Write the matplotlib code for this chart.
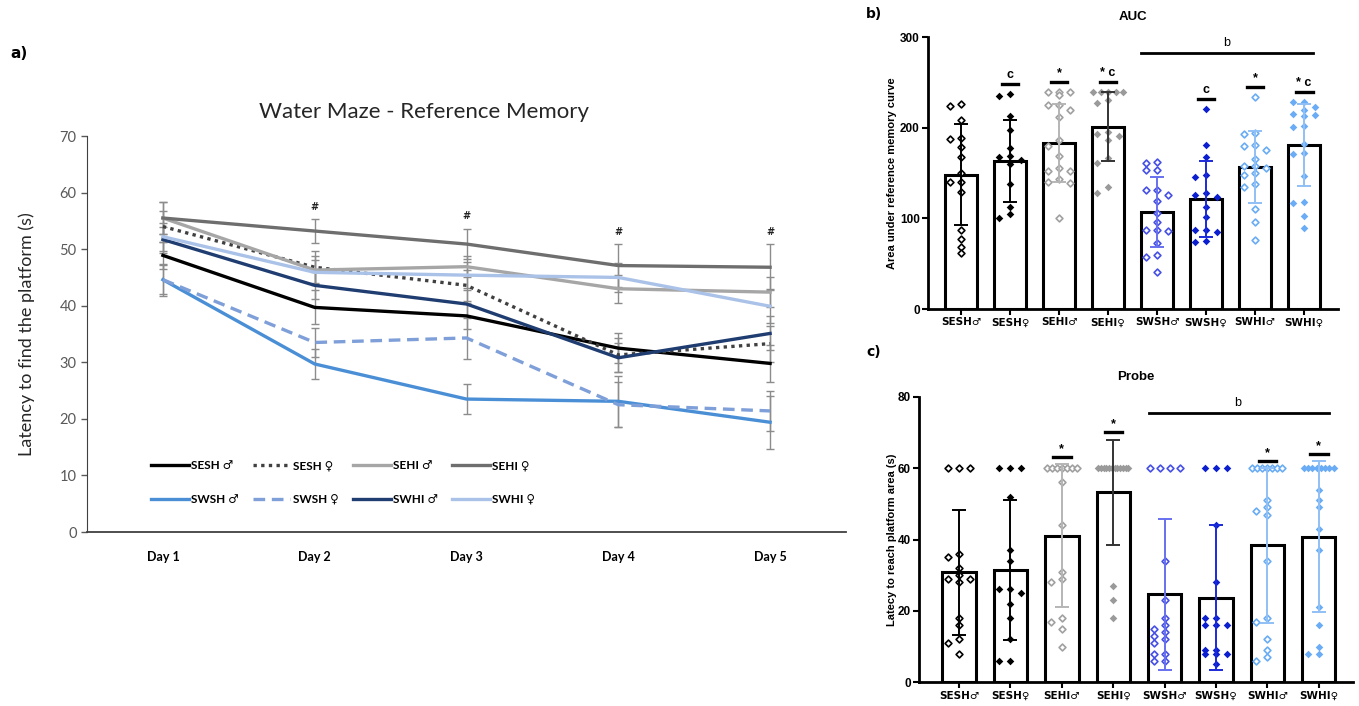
import matplotlib.pyplot as plt
import numpy as np

days = ['Day 1', 'Day 2', 'Day 3', 'Day 4', 'Day 5']
groups = ['SESH♂', 'SESH♀', 'SEHI♂', 'SEHI♀', 'SWSH♂', 'SWSH♀', 'SWHI♂', 'SWHI♀']
legend_labels = ['SESH ♂', 'SESH ♀', 'SEHI ♂', 'SEHI ♀', 'SWSH ♂', 'SWSH ♀', 'SWHI ♂', 'SWHI ♀']

# a) latency per day (mean, SEM)
sesh_m_lat = [48.9, 39.7, 38.2, 32.5, 29.8]
sesh_f_lat = [54.0, 46.8, 43.6, 31.3, 33.3]
sehi_m_lat = [55.5, 46.3, 46.9, 43.0, 42.4]
sehi_f_lat = [55.5, 53.2, 50.9, 47.1, 46.8]
swsh_m_lat = [44.6, 29.7, 23.5, 23.1, 19.4]
swsh_f_lat = [44.6, 33.5, 34.3, 22.5, 21.4]
swhi_m_lat = [51.7, 43.6, 40.3, 30.8, 35.1]
swhi_f_lat = [52.2, 45.9, 45.4, 45.0, 39.9]

sesh_m_sem = [2.4, 3.0, 2.3, 2.6, 3.3]
sesh_f_sem = [2.7, 2.8, 2.7, 3.0, 3.2]
sehi_m_sem = [2.8, 2.5, 1.8, 2.5, 2.6]
sehi_f_sem = [2.8, 2.1, 2.7, 3.8, 4.1]
swsh_m_sem = [2.8, 2.7, 2.6, 4.5, 4.7]
swsh_f_sem = [2.6, 2.6, 3.8, 4.0, 3.6]
swhi_m_sem = [2.3, 2.4, 2.5, 2.6, 3.0]
swhi_f_sem = [2.5, 2.2, 2.3, 2.5, 3.0]
hash_days = [1, 2, 3, 4]

# b) AUC
auc_mean = [148.3, 163.0, 183.6, 200.9, 107.2, 121.2, 156.8, 180.6]
auc_sd = [55.5, 45.5, 43.0, 38.0, 38.5, 42.0, 39.5, 45.0]
auc_sesh_m = [226.6, 223.6, 208.2, 189.1, 188, 178.8, 167.8, 150.2, 140.3, 140.3, 129.3, 87, 76.7, 68.7, 61.3]
auc_sesh_f = [237.6, 234.6, 212.6, 197.9, 177.7, 168.5, 167.8, 164.1, 159.4, 138.4, 112.7, 104.3, 99.9]
auc_sehi_m = [239.4, 239.4, 239.4, 235.7, 224.7, 224.7, 220, 211.9, 186.2, 179.9, 168.5, 155.7, 152.4, 152, 143.2, 140.3, 139.2, 99.9]
auc_sehi_f = [239.4, 239.4, 239.4, 239.4, 239.4, 231, 227.7, 195.4, 193.5, 190.6, 186.2, 166, 160.5, 134.8, 128.2]
auc_swsh_m = [161.6, 160.5, 153, 153, 131.8, 131.1, 125.6, 119.3, 105.4, 96.2, 87.5, 87, 86.5, 72.3, 59.5, 57.6, 41.1]
auc_swsh_f = [221, 180.7, 167.8, 147.6, 145.8, 128.2, 125.6, 123, 112.7, 101.7, 87.5, 87, 85.2, 75.3, 74.2]
auc_swhi_m = [233.9, 194.3, 192.8, 180.7, 179.9, 175.2, 165.2, 157.9, 157.5, 155, 149.5, 147.6, 137.7, 134.8, 109.8, 96.2, 76]
auc_swhi_f = [228.4, 228, 222.9, 219.2, 215.5, 213.7, 213.2, 201.6, 201.2, 182.5, 172.6, 171.5, 146.9, 117.5, 117, 102.4, 88.9]
auc_sig = ['', 'c', '*', '* c', '', 'c', '*', '* c']

# c) Probe
probe_mean = [30.8, 31.5, 41.1, 53.2, 24.6, 23.7, 38.4, 40.8]
probe_sd = [17.5, 19.6, 20.0, 14.8, 21.2, 20.3, 21.7, 21.1]
probe_sesh_m = [60, 60, 60, 36, 35, 32, 30, 29, 29, 28, 18, 16, 12, 11, 8]
probe_sesh_f = [60, 60, 60, 52, 37, 34, 26, 26, 25, 22, 18, 12, 6, 6]
probe_sehi_m = [60, 60, 60, 60, 60, 60, 60, 56, 44, 31, 29, 28, 18, 17, 15, 10]
probe_sehi_f = [60, 60, 60, 60, 60, 60, 60, 60, 60, 60, 60, 60, 27, 23, 18]
probe_swsh_m = [60, 60, 60, 60, 34, 23, 18, 16, 15, 14, 13, 12, 11, 8, 8, 6, 6]
probe_swsh_f = [60, 60, 60, 44, 28, 18, 18, 16, 16, 16, 9, 9, 8, 8, 8, 5]
probe_swhi_m = [60, 60, 60, 60, 60, 60, 60, 51, 49, 48, 47, 34, 18, 17, 12, 9, 7, 6]
probe_swhi_f = [60, 60, 60, 60, 60, 60, 60, 60, 54, 51, 49, 43, 37, 21, 16, 10, 8, 8]
probe_sig = ['', '', '*', '*', '', '', '*', '*']

lat_means = [sesh_m_lat, sesh_f_lat, sehi_m_lat, sehi_f_lat, swsh_m_lat, swsh_f_lat, swhi_m_lat, swhi_f_lat]
lat_sems = [sesh_m_sem, sesh_f_sem, sehi_m_sem, sehi_f_sem, swsh_m_sem, swsh_f_sem, swhi_m_sem, swhi_f_sem]
auc_pts = [auc_sesh_m, auc_sesh_f, auc_sehi_m, auc_sehi_f, auc_swsh_m, auc_swsh_f, auc_swhi_m, auc_swhi_f]
probe_pts = [probe_sesh_m, probe_sesh_f, probe_sehi_m, probe_sehi_f, probe_swsh_m, probe_swsh_f, probe_swhi_m, probe_swhi_f]

line_col = ['#000000', '#404040', '#a6a6a6', '#6e6e6e', '#4a8fd6', '#7f9fd9', '#1f3d70', '#aac2e8']
line_ls = ['-', (0, (1, 1.3)), '-', '-', '-', (0, (3.5, 2)), '-', '-']
pt_col = ['#000000', '#000000', '#a0a0a0', '#9a9a9a', '#4650e6', '#0b1fd0', '#6aacf5', '#6aacf5']
pt_open = [True, False, True, False, True, False, True, False]
err_col = ['#000000', '#000000', '#b5b5b5', '#333333', '#6870ee', '#1a2ad8', '#90c0f5', '#90c0f5']

W, H = 1359, 706
fig = plt.figure(figsize=(W / 100, H / 100), dpi=100)
sym = ['DejaVu Sans']


def swarm(vals, ax, d=11.0, dy=6.0, maxw=15.0):
    # simple beeswarm in pixel units -> data offsets
    pos = ax.get_position()
    y0, y1 = ax.get_ylim()
    x0, x1 = ax.get_xlim()
    ypx = pos.height * H / (y1 - y0)
    xpx = pos.width * W / (x1 - x0)
    vals = np.asarray(vals, float)
    xs = np.zeros(len(vals))
    placed = []
    uniq, counts = np.unique(vals, return_counts=True)
    for u, c in zip(uniq, counts):
        if c >= 3:
            idx = np.where(vals == u)[0]
            step = min(d, 2 * maxw / (c - 1))
            offs = (np.arange(c) - (c - 1) / 2) * step
            xs[idx] = offs
            placed += [(o, u * ypx) for o in offs]
    for i in np.argsort(-vals, kind='stable'):
        if np.sum(vals == vals[i]) >= 3:
            continue
        y = vals[i] * ypx
        best, best_gap = 0, -1
        for k in [0, -1, 1]:
            x = k * d
            near = [abs(y - py) for px, py in placed if abs(x - px) < 0.9 * d]
            gap = min(near) if near else 1e9
            if gap >= dy:
                best = x
                break
            if gap > best_gap:
                best, best_gap = x, gap
        xs[i] = best
        placed.append((best, y))
    return xs / xpx


# ---------- a) ----------
axa = fig.add_axes([87 / W, 1 - 532 / H, 759 / W, 396 / H])
x = np.arange(len(days))
handles = []
for m, e in zip(lat_means, lat_sems):
    axa.errorbar(x, m, yerr=e, fmt='none', ecolor='#8c8c8c', elinewidth=1, capsize=3, capthick=1, zorder=1)
for m, c, ls, lab in zip(lat_means, line_col, line_ls, legend_labels):
    h, = axa.plot(x, m, color=c, linestyle=ls, lw=2.4, zorder=2, label=lab)
    handles.append(h)
tops = np.max(np.array(lat_means) + np.array(lat_sems), axis=0)
for d in hash_days:
    axa.text(d, tops[d] + 1.3, '#', ha='center', va='bottom', fontsize=7, fontweight='bold', color='#222222')
axa.set_xlim(-0.5, 4.5)
axa.set_ylim(0, 70)
axa.set_yticks(range(0, 71, 10))
axa.set_xticks(x)
axa.set_xticklabels(days, fontsize=9, fontweight='bold', family=['Lato'] + sym)
axa.tick_params(axis='x', length=0, pad=14)
axa.tick_params(axis='y', length=4, width=1, colors='#595959', labelsize=10.5, direction='out')
for t in axa.get_yticklabels():
    t.set_family(['Lato'] + sym)
axa.spines[['top', 'right']].set_visible(False)
axa.spines['left'].set_color('#404040')
axa.spines['bottom'].set_color('#404040')
axa.spines['bottom'].set_linewidth(1.3)
axa.set_ylabel('Latency to find the platform (s)', fontsize=13, family=['Lato'] + sym, color='#262626')
axa.yaxis.set_label_coords(-0.068, 0.5)
# legend fills column by column, so interleave the two rows
order = [0, 4, 1, 5, 2, 6, 3, 7]
axa.legend(handles=[handles[i] for i in order], ncol=4, loc='upper left', bbox_to_anchor=(0.07, 0.208),
           frameon=False, handlelength=3.2, handletextpad=0.2, columnspacing=1.2, labelspacing=1.9,
           prop={'family': ['Lato'] + sym, 'weight': 'bold', 'size': 8.5})
fig.text(424 / W, 1 - 112 / H, 'Water Maze - Reference Memory', ha='center', va='center', fontsize=16,
         family=['Lato'] + sym, color='#262626')
fig.text(10 / W, 1 - 53 / H, 'a)', fontsize=11, fontweight='bold', va='center')


def bar_panel(ax, means, sds, pts, sig, ylim, yticks, ylabel, title, sig_off, label_x):
    xi = np.arange(len(groups))
    ax.set_ylim(*ylim)
    ax.bar(xi, means, width=0.65, facecolor='white', edgecolor='black', linewidth=2.2, zorder=1)
    for i, p in enumerate(pts):
        off = swarm(p, ax)
        if pt_open[i]:
            ax.scatter(i + off, p, marker='D', s=12, facecolors='white', edgecolors=pt_col[i], linewidths=1.2, zorder=2)
        else:
            ax.scatter(i + off, p, marker='D', s=15, color=pt_col[i], linewidths=0, zorder=2)
        ax.errorbar(i, means[i], yerr=sds[i], fmt='none', ecolor=err_col[i], elinewidth=1.4,
                    capsize=5, capthick=1.4, zorder=3)
        if sig[i]:
            ytop = max(max(p), means[i] + sds[i]) + sig_off
            ax.plot([i - 0.17, i + 0.17], [ytop, ytop], color='black', lw=2.4, zorder=4)
            ax.text(i, ytop + sig_off * 0.25, sig[i], ha='center', va='bottom', fontsize=9,
                    fontweight='bold', family=['Liberation Sans'] + sym)
    ax.set_yticks(yticks)
    ax.set_xticks(xi)
    ax.set_xticklabels(groups, fontweight='bold', fontsize=7.5, family=['DejaVu Sans'])
    for t in ax.get_yticklabels():
        t.set_fontweight('bold')
        t.set_family(['Liberation Sans'] + sym)
    ax.tick_params(axis='both', length=4, width=1.5, labelsize=8.5, pad=2)
    ax.tick_params(axis='x', labelsize=7.5)
    ax.spines[['top', 'right']].set_visible(False)
    ax.spines['left'].set_linewidth(2)
    ax.spines['bottom'].set_linewidth(2)
    ax.set_ylabel(ylabel, fontsize=8, fontweight='bold', family=['Liberation Sans'] + sym)
    ax.yaxis.set_label_coords(label_x, 0.5)
    ax.set_title(title, fontsize=9.5, fontweight='bold', pad=12, family=['Liberation Sans'] + sym)


# ---------- b) ----------
axb = fig.add_axes([928 / W, 1 - 309 / H, 410 / W, 272 / H])
axb.set_xlim(-0.673, 7.69)
bar_panel(axb, auc_mean, auc_sd, auc_pts, auc_sig, (0, 300), [0, 100, 200, 300],
          'Area under reference memory curve', 'AUC', 11, -0.075)
axb.plot([3.67, 7.17], [282.4, 282.4], color='black', lw=2)
axb.text(5.41, 287, 'b', ha='center', va='bottom', fontsize=9, family=['Liberation Sans'] + sym)
fig.text(866 / W, 1 - 14 / H, 'b)', fontsize=10, fontweight='bold', va='center')

# ---------- c) ----------
axc = fig.add_axes([919 / W, 1 - 682.3 / H, 433.7 / W, 285.6 / H])
axc.set_xlim(-0.78, 7.66)
bar_panel(axc, probe_mean, probe_sd, probe_pts, probe_sig, (0, 80), [0, 20, 40, 60, 80],
          'Latecy to reach platform area (s)', 'Probe', 2, -0.05)
axc.plot([3.69, 7.2], [75.3, 75.3], color='black', lw=2)
axc.text(5.43, 76.5, 'b', ha='center', va='bottom', fontsize=9, family=['Liberation Sans'] + sym)
fig.text(866 / W, 1 - 352 / H, 'c)', fontsize=10, fontweight='bold', va='center')

fig.savefig('out.png', dpi=100)
